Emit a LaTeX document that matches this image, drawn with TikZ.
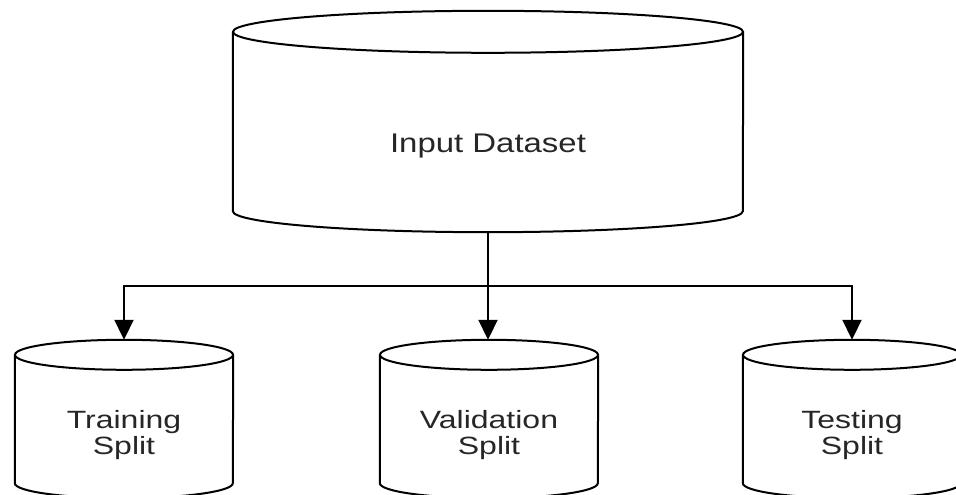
\documentclass[tikz,border=0pt]{standalone}
\usepackage{fontspec}
\setmainfont{Liberation Sans}
\usetikzlibrary{arrows.meta,calc}

% draws a cylinder around a body node: side walls, bottom arc and top ellipse
\newcommand{\drawdrum}[3]{% name, x radius, y radius
  \draw[drumline] (#1.north west) -- (#1.south west)
    arc[start angle=180, end angle=360, x radius=#2, y radius=#3]
    -- (#1.north east);
  \draw[drumline] (#1.north) ellipse[x radius=#2, y radius=#3];
}
\newcommand{\widetext}[1]{\scalebox{1.22}[1]{#1}}
\newcommand{\widestack}[2]{\scalebox{1.28}[1]{\begin{tabular}{@{}c@{}}#1\\#2\end{tabular}}}

\begin{document}
\begin{tikzpicture}[x=1pt, y=1pt,
  drumline/.style={line width=2pt, black},
  body/.style={rectangle, draw=none, inner sep=0pt},
  bigbody/.style={body, minimum width=510pt, minimum height=179pt},
  smallbody/.style={body, minimum width=218pt, minimum height=128pt},
  biglabel/.style={anchor=base, inner sep=0pt, text=black!85, font=\fontsize{27}{27}\selectfont},
  smalllabel/.style={inner sep=0pt, text=black!85, font=\fontsize{25}{25}\selectfont},
  link/.style={line width=2pt, black},
  arr/.style={link, -{Triangle[width=19pt, length=20pt]}}
]
\useasboundingbox (0,0) rectangle (956,495);
\clip (0,0) rectangle (956,495);

% cylinder bodies
\node[bigbody]   (inp) at (488,373.5) {};
\node[smallbody] (trn) at (124,76) {};
\node[smallbody] (val) at (489,76) {};
\node[smallbody] (tst) at (852,76) {};

\drawdrum{inp}{255}{21}
\drawdrum{trn}{109}{15}
\drawdrum{val}{109}{15}
\drawdrum{tst}{109}{15}

% labels
\node[biglabel]   (inplbl) at ($(inp.center)+(0,-31.5)$) {\widetext{Input Dataset}};
\node[smalllabel] (trnlbl) at ($(trn.center)+(0,-17)$) {\widestack{Training}{Split}};
\node[smalllabel] (vallbl) at ($(val.center)+(0,-17)$) {\widestack{Validation}{Split}};
\node[smalllabel] (tstlbl) at ($(tst.center)+(0,-17)$) {\widestack{Testing}{Split}};

% connectors
\coordinate (inpbot) at ($(inp.south)+(0,-21)$);
\coordinate (fork)   at ($(inp.south)+(0,-75)$);
\coordinate (trntop) at ($(trn.north)+(0,15)$);
\coordinate (valtop) at ($(val.north)+(0,15)$);
\coordinate (tsttop) at ($(tst.north)+(0,15)$);

\draw[link] (inpbot) -- (fork);
\draw[arr] (fork) -| (trntop);
\draw[arr] (fork) -| (tsttop);
\draw[arr] (fork) -- (fork |- valtop);
\end{tikzpicture}
\end{document}
